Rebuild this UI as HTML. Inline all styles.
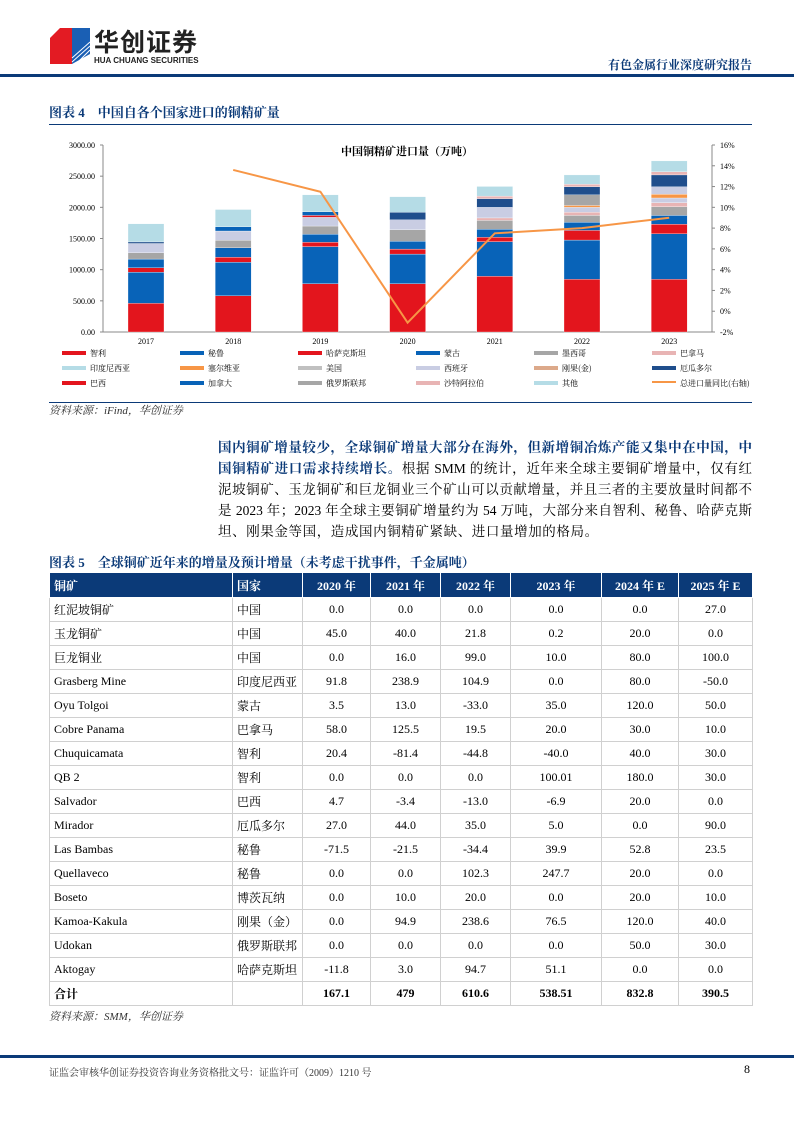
<!DOCTYPE html>
<html><head><meta charset="utf-8">
<style>
body{margin:0;background:#fff;}
#pg{position:relative;width:794px;height:1123px;overflow:hidden;font-family:"Liberation Serif","Noto Serif CJK SC",serif;color:#000;}
.a{position:absolute;white-space:nowrap;}
.ln{position:absolute;left:218px;width:534px;font-size:13.5px;line-height:20px;text-align:justify;text-align-last:justify;white-space:nowrap;}
table{position:absolute;left:49px;top:572px;border-collapse:collapse;font-size:12px;table-layout:fixed;}
td{border:1px solid #d0d0d0;height:23px;padding:0 4px;text-align:center;}
td:first-child{text-align:left;}
td:nth-child(2){text-align:left;}
tr.h td{background:#0b3a78;color:#fff;font-weight:bold;height:24px;border-color:#fff;}
tr.t td{font-weight:bold;}
</style></head><body><div id="pg">
<svg class="a" style="left:50px;top:28px" width="40" height="36"><polygon points="0,10 10,0 22,0 22,36 0,36" fill="#e31b23"/><polygon points="22,0 40,0 40,26 22,36" fill="#1a5fb4"/><g stroke="#fff" stroke-width="1"><line x1="22" y1="30" x2="40" y2="14"/><line x1="22" y1="34" x2="40" y2="18"/><line x1="26" y1="36" x2="40" y2="22"/></g></svg>
<div class="a" style="left:94px;top:28px;font:bold 25px/26px 'Noto Sans CJK SC',sans-serif;color:#222;letter-spacing:1px">华创证券</div>
<div class="a" style="left:94px;top:56px;font:bold 8px/9px 'Liberation Sans',sans-serif;color:#222">HUA CHUANG SECURITIES</div>
<div class="a" style="left:608px;top:56px;font-size:12px;color:#0b3a78;font-weight:bold">有色金属行业深度研究报告</div>
<div class="a" style="left:0;top:74px;width:794px;height:3px;background:#0b3a78"></div>
<div class="a" style="left:49px;top:102px;font-size:13px;font-weight:bold;color:#0b3a78">图表 4　中国自各个国家进口的铜精矿量</div>
<div class="a" style="left:49px;top:124px;width:703px;height:1px;background:#0b3a78"></div>
<svg class="a" style="left:0;top:0" width="794" height="400" id="ch" font-family="Liberation Serif" font-size="8"></svg>
<div class="a" style="left:49px;top:402px;width:703px;height:1px;background:#0b3a78"></div>
<div class="a" style="left:49px;top:402px;font-size:11px;font-style:italic;color:#333">资料来源：iFind，华创证券</div>
<div class="ln" style="top:438px;color:#0b3a78;font-weight:bold">国内铜矿增量较少，全球铜矿增量大部分在海外，但新增铜冶炼产能又集中在中国，中</div>
<div class="ln" style="top:459px"><b style="color:#0b3a78">国铜精矿进口需求持续增长。</b>根据 SMM 的统计，近年来全球主要铜矿增量中，仅有红</div>
<div class="ln" style="top:480px">泥坡铜矿、玉龙铜矿和巨龙铜业三个矿山可以贡献增量，并且三者的主要放量时间都不</div>
<div class="ln" style="top:501px">是 2023 年；2023 年全球主要铜矿增量约为 54 万吨，大部分来自智利、秘鲁、哈萨克斯</div>
<div class="a" style="top:522px;left:218px;font-size:13.5px;line-height:20px;letter-spacing:0.6px">坦、刚果金等国，造成国内铜精矿紧缺、进口量增加的格局。</div>
<div class="a" style="left:49px;top:552px;font-size:13px;font-weight:bold;color:#0b3a78">图表 5　全球铜矿近年来的增量及预计增量（未考虑干扰事件，千金属吨）</div>
<table>
<colgroup><col style="width:183px"><col style="width:70px"><col style="width:68px"><col style="width:70px"><col style="width:70px"><col style="width:91px"><col style="width:77px"><col style="width:74px"></colgroup>
<tr class="h"><td>铜矿</td><td>国家</td><td>2020 年</td><td>2021 年</td><td>2022 年</td><td>2023 年</td><td>2024 年 E</td><td>2025 年 E</td></tr>
<tr><td>红泥坡铜矿</td><td>中国</td><td>0.0</td><td>0.0</td><td>0.0</td><td>0.0</td><td>0.0</td><td>27.0</td></tr>
<tr><td>玉龙铜矿</td><td>中国</td><td>45.0</td><td>40.0</td><td>21.8</td><td>0.2</td><td>20.0</td><td>0.0</td></tr>
<tr><td>巨龙铜业</td><td>中国</td><td>0.0</td><td>16.0</td><td>99.0</td><td>10.0</td><td>80.0</td><td>100.0</td></tr>
<tr><td>Grasberg Mine</td><td>印度尼西亚</td><td>91.8</td><td>238.9</td><td>104.9</td><td>0.0</td><td>80.0</td><td>-50.0</td></tr>
<tr><td>Oyu Tolgoi</td><td>蒙古</td><td>3.5</td><td>13.0</td><td>-33.0</td><td>35.0</td><td>120.0</td><td>50.0</td></tr>
<tr><td>Cobre Panama</td><td>巴拿马</td><td>58.0</td><td>125.5</td><td>19.5</td><td>20.0</td><td>30.0</td><td>10.0</td></tr>
<tr><td>Chuquicamata</td><td>智利</td><td>20.4</td><td>-81.4</td><td>-44.8</td><td>-40.0</td><td>40.0</td><td>30.0</td></tr>
<tr><td>QB 2</td><td>智利</td><td>0.0</td><td>0.0</td><td>0.0</td><td>100.01</td><td>180.0</td><td>30.0</td></tr>
<tr><td>Salvador</td><td>巴西</td><td>4.7</td><td>-3.4</td><td>-13.0</td><td>-6.9</td><td>20.0</td><td>0.0</td></tr>
<tr><td>Mirador</td><td>厄瓜多尔</td><td>27.0</td><td>44.0</td><td>35.0</td><td>5.0</td><td>0.0</td><td>90.0</td></tr>
<tr><td>Las Bambas</td><td>秘鲁</td><td>-71.5</td><td>-21.5</td><td>-34.4</td><td>39.9</td><td>52.8</td><td>23.5</td></tr>
<tr><td>Quellaveco</td><td>秘鲁</td><td>0.0</td><td>0.0</td><td>102.3</td><td>247.7</td><td>20.0</td><td>0.0</td></tr>
<tr><td>Boseto</td><td>博茨瓦纳</td><td>0.0</td><td>10.0</td><td>20.0</td><td>0.0</td><td>20.0</td><td>10.0</td></tr>
<tr><td>Kamoa-Kakula</td><td>刚果（金）</td><td>0.0</td><td>94.9</td><td>238.6</td><td>76.5</td><td>120.0</td><td>40.0</td></tr>
<tr><td>Udokan</td><td>俄罗斯联邦</td><td>0.0</td><td>0.0</td><td>0.0</td><td>0.0</td><td>50.0</td><td>30.0</td></tr>
<tr><td>Aktogay</td><td>哈萨克斯坦</td><td>-11.8</td><td>3.0</td><td>94.7</td><td>51.1</td><td>0.0</td><td>0.0</td></tr>
<tr class="t"><td>合计</td><td></td><td>167.1</td><td>479</td><td>610.6</td><td>538.51</td><td>832.8</td><td>390.5</td></tr>
</table>
<div class="a" style="left:49px;top:1008px;font-size:11px;font-style:italic;color:#333">资料来源：SMM，华创证券</div>
<div class="a" style="left:0;top:1055px;width:794px;height:3px;background:#0b3a78"></div>
<div class="a" style="left:49px;top:1064px;font-size:10px;color:#333">证监会审核华创证券投资咨询业务资格批文号：证监许可（2009）1210 号</div>
<div class="a" style="left:744px;top:1062px;font-size:12px">8</div>
</div>
<script>
var s='',Y=function(v){return 332-v*187/3000;};
s+='<line x1="103" y1="145" x2="103" y2="332" stroke="#888"/><line x1="103" y1="332" x2="712" y2="332" stroke="#888"/><line x1="712" y1="145" x2="712" y2="332" stroke="#888"/>';
for(var i=0;i<=6;i++){var v=i*500,y=Y(v);s+='<text x="95" y="'+(y+3)+'" text-anchor="end">'+v.toFixed(2)+'</text><line x1="100" x2="103" y1="'+y+'" y2="'+y+'" stroke="#888"/>';}
for(var p=-2;p<=16;p+=2){var y=332-(p+2)*187/18;s+='<text x="720" y="'+(y+3)+'">'+p+'%</text><line x1="712" x2="715" y1="'+y+'" y2="'+y+'" stroke="#888"/>';}
s+='<text x="407" y="155" text-anchor="middle" font-size="11" font-weight="bold" font-family="Noto Serif CJK SC">中国铜精矿进口量（万吨）</text>';
var R='#e3151d',B='#0863b8',G='#a6a6a6',L='#c9cde3',P='#e8b4b4',LB='#b5dce6',O='#f79646',DB='#1f4e8c';
var D=[[[460,R],[960,B],[1030,R],[1170,B],[1270,G],[1420,L],[1445,DB],[1735,LB]],
[[580,R],[1120,B],[1200,R],[1350,B],[1470,G],[1620,L],[1690,B],[1965,LB]],
[[775,R],[1370,B],[1440,R],[1570,B],[1700,G],[1840,L],[1870,R],[1930,B],[2200,LB]],
[[775,R],[1250,B],[1330,R],[1455,B],[1640,G],[1800,L],[1920,DB],[2170,LB]],
[[895,R],[1450,B],[1520,R],[1650,B],[1790,G],[1830,P],[2000,L],[2140,DB],[2180,P],[2335,LB]],
[[845,R],[1475,B],[1630,R],[1760,B],[1870,G],[1920,P],[2000,L],[2030,O],[2200,G],[2330,DB],[2370,P],[2520,LB]],
[[845,R],[1575,B],[1730,R],[1870,B],[2010,G],[2075,P],[2150,L],[2210,O],[2330,L],[2520,DB],[2570,P],[2745,LB]]];
for(var k=0;k<7;k++){var cx=146+k*87.2,prev=0;D[k].forEach(function(d){s+='<rect x="'+(cx-18)+'" y="'+Y(d[0])+'" width="36" height="'+(Y(prev)-Y(d[0]))+'" fill="'+d[1]+'" stroke="#fff" stroke-width="0.3"/>';prev=d[0];});
s+='<text x="'+cx+'" y="344" text-anchor="middle">'+(2017+k)+'</text>';}
var pts=[[1,13.6],[2,11.5],[3,-1.1],[4,7.5],[5,8],[6,9]].map(function(q){return (146+q[0]*87.2)+','+(332-(q[1]+2)*187/18);}).join(' ');
s+='<polyline points="'+pts+'" fill="none" stroke="#f79646" stroke-width="2"/>';
var lg=[['智利',R],['秘鲁',B],['哈萨克斯坦',R],['蒙古',B],['墨西哥',G],['巴拿马',P],['印度尼西亚',LB],['塞尔维亚',O],['美国','#c0c0c0'],['西班牙',L],['刚果(金)','#dca98a'],['厄瓜多尔',DB],['巴西',R],['加拿大',B],['俄罗斯联邦',G],['沙特阿拉伯',P],['其他',LB],['总进口量同比(右轴)',O]];
lg.forEach(function(l,i){var c=i%6,r=Math.floor(i/6),x=62+c*118,y=353+r*15;s+='<rect x="'+x+'" y="'+(y-2)+'" width="24" height="'+(i==17?2:4)+'" fill="'+l[1]+'"/><text x="'+(x+28)+'" y="'+(y+3)+'" font-family="Noto Serif CJK SC">'+l[0]+'</text>';});
document.getElementById('ch').innerHTML=s;
</script>
</body></html>
